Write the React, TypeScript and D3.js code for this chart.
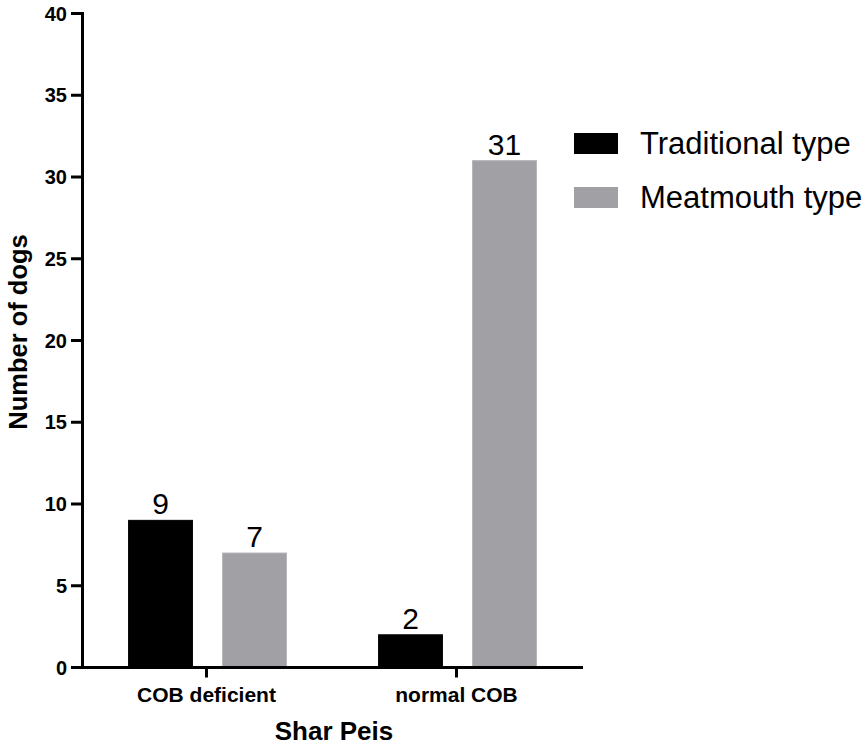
import React from "react";
import * as d3 from "d3";

const categories = ["COB deficient", "normal COB"];
const seriesNames = ["Traditional type", "Meatmouth type"];
const traditionalValues = [9, 2];
const meatmouthValues = [7, 31];
const yTicks = [0, 5, 10, 15, 20, 25, 30, 35, 40];
const seriesColors = ["#000000", "#a1a0a5"];
const seriesStrokes = ["#000000", "#b4b3b8"];

const W = 862;
const H = 746;
const FONT = "'Liberation Sans', Arial, Helvetica, sans-serif";

export default function App() {
  const x0 = d3.scaleBand<string>().domain(categories).range([82.5, 582.5]).padding(0);
  const x1 = d3
    .scaleBand<string>()
    .domain(seriesNames)
    .range([0, x0.bandwidth()])
    .paddingInner(0.31)
    .paddingOuter(0.485);
  const y = d3.scaleLinear().domain([0, 40]).range([667.5, 13.5]);

  const values = [traditionalValues, meatmouthValues];

  return (
    <svg
      width={W}
      height={H}
      style={{ position: "absolute", left: 0, top: 0, background: "#fff" }}
      fontFamily={FONT}
    >
      {/* bars */}
      {categories.map((c, ci) => (
        <g key={c} transform={`translate(${x0(c)},0)`}>
          {seriesNames.map((s, si) => {
            const v = values[si][ci];
            const bx = x1(s)!;
            const bw = x1.bandwidth();
            return (
              <g key={s}>
                <rect
                  x={bx + 0.5}
                  y={y(v)}
                  width={bw - 1}
                  height={y(0) - y(v)}
                  fill={seriesColors[si]}
                  stroke={seriesStrokes[si]}
                  strokeWidth={1}
                />
                <text
                  x={bx + bw / 2}
                  y={y(v) - 6}
                  textAnchor="middle"
                  fontSize={30}
                  fill="#000"
                >
                  {v}
                </text>
              </g>
            );
          })}
        </g>
      ))}

      {/* y axis */}
      <line x1={82.5} x2={82.5} y1={y(40) - 1.5} y2={y(0) + 1.5} stroke="#000" strokeWidth={3} />
      {yTicks.map((t) => (
        <g key={t} transform={`translate(0,${y(t)})`}>
          <line x1={71} x2={82.5} stroke="#000" strokeWidth={3} />
          <text
            x={67}
            dy="0.36em"
            textAnchor="end"
            fontSize={20}
            fontWeight="bold"
            fill="#000"
          >
            {t}
          </text>
        </g>
      ))}

      {/* x axis */}
      <line x1={81} x2={583} y1={y(0)} y2={y(0)} stroke="#000" strokeWidth={3} />
      {categories.map((c) => {
        const cx = x0(c)! + x0.bandwidth() / 2 - 1;
        return (
          <g key={c} transform={`translate(${cx},0)`}>
            <line y1={y(0)} y2={y(0) + 10} stroke="#000" strokeWidth={3} />
            <text y={702} textAnchor="middle" fontSize={21} fontWeight="bold" fill="#000">
              {c}
            </text>
          </g>
        );
      })}

      {/* axis titles */}
      <text x={334} y={740} textAnchor="middle" fontSize={26} fontWeight="bold" fill="#000">
        Shar Peis
      </text>
      <text
        transform={`translate(27,332) rotate(-90)`}
        textAnchor="middle"
        fontSize={25.5}
        fontWeight="bold"
        fill="#000"
      >
        Number of dogs
      </text>

      {/* legend */}
      {seriesNames.map((s, i) => (
        <g key={s} transform={`translate(574,${133 + i * 54})`}>
          <rect width={44} height={21} fill={seriesColors[i]} />
          <text x={66} y={21} fontSize={31} fill="#000">
            {s}
          </text>
        </g>
      ))}
    </svg>
  );
}
